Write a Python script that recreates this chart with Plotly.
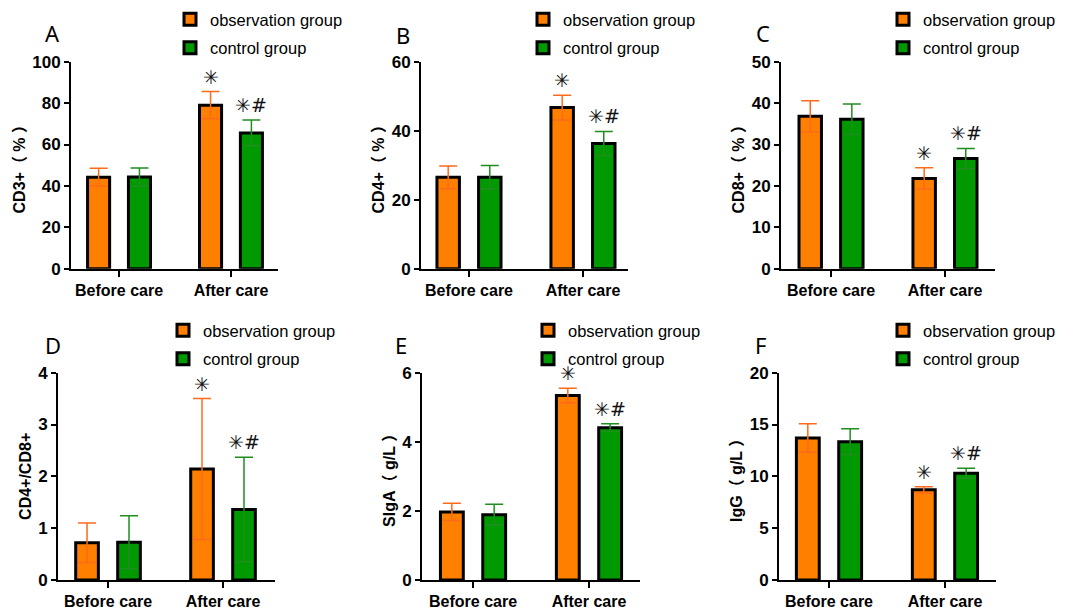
import plotly.graph_objects as go

categories = ["Before care", "After care"]

panel_letters = ["A", "B", "C", "D", "E", "F"]
y_titles = ["CD3+（ % ）", "CD4+（ % ）", "CD8+（ % ）", "CD4+/CD8+", "SIgA（ g/L ）", "IgG（ g/L ）"]

obs_mean = [[44.2, 79.0], [26.5, 46.7], [36.8, 21.8], [0.72, 2.14], [1.97, 5.34], [13.7, 8.7]]
obs_sd = [[4.3, 6.6], [3.3, 3.6], [3.75, 2.6], [0.38, 1.36], [0.25, 0.21], [1.37, 0.3]]
ctl_mean = [[44.3, 65.6], [26.5, 36.3], [36.1, 26.6], [0.73, 1.36], [1.89, 4.41], [13.35, 10.3]]
ctl_sd = [[4.4, 6.2], [3.4, 3.5], [3.7, 2.45], [0.51, 1.01], [0.30, 0.11], [1.25, 0.48]]

obs_marks = [["", "✳"], ["", "✳"], ["", "✳"], ["", "✳"], ["", "✳"], ["", "✳"]]
ctl_marks = [["", "✳#"], ["", "✳#"], ["", "✳#"], ["", "✳#"], ["", "✳#"], ["", "✳#"]]

y_max = [100, 60, 50, 4, 6, 20]
y_dtick = [20, 20, 10, 1, 2, 5]

# layout (pixels)
W, H = 1065, 607
x_px = [(71, 278), (421, 628), (781, 995), (58, 275), (422, 640), (779, 996)]
y_px = [(61.7, 268.7)] * 3 + [(372.7, 580)] * 3
x_ranges = [(-0.429, 1.42), (-0.421, 1.395), (-0.439, 1.439),
            (-0.435, 1.452), (-0.44, 1.44), (-0.431, 1.44)]
legend_px = [(170, 2), (523, 2), (883, 2), (163, 313), (528, 313), (883, 313)]
letter_px = [(52, 33), (403, 35), (763, 33), (53, 345), (401, 345), (760, 345)]

ORANGE = "#FF7F00"
GREEN = "#009A00"
ORANGE_ERR = "#FF6A1A"
GREEN_ERR = "#1F8E1F"
BARGAP = 0.27
BARGROUPGAP = 0.46

fig = go.Figure()
layout = dict(
    width=W, height=H, autosize=False,
    margin=dict(l=0, r=0, t=0, b=0, pad=0, autoexpand=False),
    paper_bgcolor="white", plot_bgcolor="white",
    barmode="group", bargap=BARGAP, bargroupgap=BARGROUPGAP,
    showlegend=True,
    annotations=[],
)

tick_font = dict(family="Liberation Sans, Arial, sans-serif", size=17, color="black", weight="bold")
xtick_font = dict(family="Liberation Sans, Arial, sans-serif", size=16, color="black", weight="bold")
title_font = dict(family="Liberation Sans, Arial, Noto Sans CJK SC, sans-serif", size=16, color="black", weight="bold")

offset = (1 - BARGAP) / 4

for k in range(6):
    n = "" if k == 0 else str(k + 1)
    xa, ya = "x" + n, "y" + n
    lg = "legend" + n
    fig.add_trace(go.Bar(
        x=categories, y=obs_mean[k], name="observation group",
        marker=dict(color=ORANGE, line=dict(color="black", width=3)),
        error_y=dict(type="data", array=obs_sd[k], visible=True, color=ORANGE_ERR,
                     thickness=1.5, width=9),
        xaxis=xa, yaxis=ya, legend=lg, showlegend=True, legendgroup="obs" + n,
    ))
    fig.add_trace(go.Bar(
        x=categories, y=ctl_mean[k], name="control group",
        marker=dict(color=GREEN, line=dict(color="black", width=3)),
        error_y=dict(type="data", array=ctl_sd[k], visible=True, color=GREEN_ERR,
                     thickness=1.5, width=9),
        xaxis=xa, yaxis=ya, legend=lg, showlegend=True, legendgroup="ctl" + n,
    ))
    x0, x1 = x_px[k]
    yt, yb = y_px[k]
    layout["xaxis" + n] = dict(
        domain=[x0 / W, x1 / W], anchor=ya, type="category", automargin=False,
        range=list(x_ranges[k]), showline=True, linecolor="black", linewidth=2,
        ticks="outside", ticklen=6, tickwidth=2, tickcolor="black",
        tickfont=xtick_font, showgrid=False, zeroline=False, fixedrange=True,
    )
    layout["yaxis" + n] = dict(
        domain=[(H - yb) / H, (H - yt) / H], anchor=xa, automargin=False,
        range=[0, y_max[k]], dtick=y_dtick[k], tick0=0,
        showline=True, linecolor="black", linewidth=2,
        ticks="outside", ticklen=5, tickwidth=2, tickcolor="black",
        tickfont=tick_font, showgrid=False, zeroline=False,
        title=dict(text=y_titles[k], font=title_font, standoff=3),
    )
    lx, ly = legend_px[k]
    layout[lg] = dict(
        x=lx / W, y=1 - ly / H, xanchor="left", yanchor="top",
        bgcolor="rgba(0,0,0,0)", borderwidth=0, tracegroupgap=4,
        font=dict(family="Liberation Sans, Arial, sans-serif", size=16.5, color="black"),
        orientation="v", traceorder="grouped",
    )
    px_, py_ = letter_px[k]
    layout["annotations"].append(dict(
        text=panel_letters[k], xref="paper", yref="paper",
        x=px_ / W, y=1 - py_ / H, xanchor="center", yanchor="middle",
        showarrow=False, font=dict(family="Noto Sans, sans-serif", size=22, color="black"),
    ))
    for i in range(2):
        for marks, means, sds, sgn in ((obs_marks, obs_mean, obs_sd, -1), (ctl_marks, ctl_mean, ctl_sd, 1)):
            t = marks[k][i]
            if not t:
                continue
            layout["annotations"].append(dict(
                text=t, xref=xa, yref=ya, x=i + sgn * offset, y=means[k][i] + sds[k][i],
                xanchor="center", yanchor="middle", yshift=15, showarrow=False,
                font=dict(family="DejaVu Sans, sans-serif", size=19, color="#111111"),
            ))

fig.update_layout(**layout)
fig.write_html("out.html", config={"displayModeBar": False},
               post_script="document.body.style.margin='0';document.body.style.overflow='hidden';")
